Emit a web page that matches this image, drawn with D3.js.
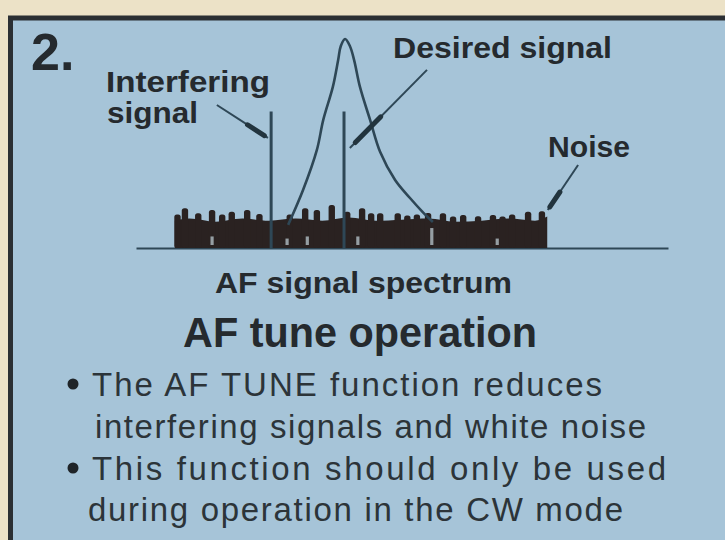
<!DOCTYPE html>
<html>
<head>
<meta charset="utf-8">
<script src="https://cdn.jsdelivr.net/npm/d3@7"></script>
<style>
  body { margin: 0; background: #ece2c7; }
  svg { display: block; }
</style>
</head>
<body>
<div id="chart"></div>
<script>
// spectrum: frequency runs 0-100 along the baseline, amplitude 0-100
const peakFreq = [28.6, 31.4, 34.0, 35.2, 37.0, 38.0, 38.5, 39.3, 40.2, 41.0, 42.1, 44.0, 45.9, 48.7, 51.5, 53.9, 55.8];
const peakAmp  = [11.0, 27.6, 46.7, 61.0, 76.7, 89.5, 96.2, 99.5, 96.2, 89.5, 76.7, 61.0, 45.7, 32.4, 23.8, 17.1, 12.4];

const signalNames = ['Interfering signal', 'Desired signal'];
const signalFreq = [25.4, 39.1];
const signalAmp = [65, 65];

// noise floor
const noiseBodyFreq = [7.3, 10, 15, 20, 25, 30, 35, 40, 45, 50, 55, 60, 65, 70, 75, 77.3];
const noiseBodyAmp  = [13, 14, 12.5, 14, 13, 14, 13, 14.5, 13, 13.5, 14, 12.5, 13, 14, 13, 15];
const spikeFreq = [7.8, 9.2, 11.7, 14.3, 16.2, 18.0, 20.9, 23.2, 28.9, 31.8, 34.0, 36.8, 39.7, 42.5, 44.2, 45.9, 49.2, 51.0, 52.8, 54.9, 57.7, 59.6, 61.5, 64.3, 67.1, 68.9, 70.7, 73.7, 76.3];
const spikeAmp  = [16.0, 18.9, 16.5, 18.1, 16.0, 17.3, 18.1, 16.2, 15.9, 18.9, 18.1, 20.5, 17.3, 18.9, 16.5, 16.5, 16.5, 15.5, 15.9, 16.7, 16.5, 15.0, 15.7, 15.1, 15.7, 15.0, 15.9, 17.3, 17.5];
const speckFreq = [14.3, 28.4, 32.2, 41.7, 55.6, 67.9];
const speckAmp  = [3, 2, 3, 3, 7, 2];

// leader lines [fromFreq, fromAmp, toFreq, toAmp]
const leaders = [
  [15.2, 68.1, 24.8, 52.4],
  [54.7, 84.8, 40.2, 47.6],
  [83.1, 39.5, 77.4, 18.1]
];

const bulletLines = [
  'The AF TUNE function reduces',
  'interfering signals and white noise',
  'This function should only be used',
  'during operation in the CW mode'
];

const width = 725, height = 540;
const ink = '#2e4756';
const textInk = '#252a2e';
const noiseInk = '#2a2221';

const svg = d3.select('#chart')
  .append('svg')
  .attr('width', width)
  .attr('height', height);

// panel with dark frame running off the right and bottom edge
svg.append('rect')
  .attr('x', 10.5).attr('y', 18)
  .attr('width', 730).attr('height', 540)
  .attr('fill', '#a6c4d8')
  .attr('stroke', '#2b2f33')
  .attr('stroke-width', 5);

const x = d3.scaleLinear().domain([0, 100]).range([136, 668]);
const y = d3.scaleLinear().domain([0, 100]).range([248, 38]);

// baseline
svg.append('g')
  .attr('transform', `translate(0, ${y(0)})`)
  .call(d3.axisBottom(x).ticks(0).tickSizeOuter(0))
  .call(g => g.select('.domain').attr('stroke', ink).attr('stroke-width', 2.2));

// noise floor body
const body = noiseBodyFreq.map((f, i) => ({ f, a: noiseBodyAmp[i] }));
svg.append('path')
  .datum(body)
  .attr('fill', noiseInk)
  .attr('d', d3.area().x(d => x(d.f)).y0(y(0)).y1(d => y(d.a)).curve(d3.curveMonotoneX));

// noise spikes
svg.selectAll('.spike')
  .data(spikeFreq.map((f, i) => ({ f, a: spikeAmp[i] })))
  .enter()
  .append('rect')
  .attr('class', 'spike')
  .attr('x', d => x(d.f - 0.6))
  .attr('y', d => y(d.a))
  .attr('width', d => x(d.f + 0.6) - x(d.f - 0.6))
  .attr('height', d => y(0) - y(d.a))
  .attr('rx', 2.5)
  .attr('fill', noiseInk);

// light specks inside the noise
svg.selectAll('.speck')
  .data(speckFreq.map((f, i) => ({ f, a: speckAmp[i] })))
  .enter()
  .append('rect')
  .attr('class', 'speck')
  .attr('x', d => x(d.f - 0.3))
  .attr('y', d => y(d.a + 2.5))
  .attr('width', d => x(d.f + 0.3) - x(d.f - 0.3))
  .attr('height', d => y(0) - y(d.a + 2.5) - 3)
  .attr('fill', '#b9c8cf')
  .attr('opacity', 0.75);

// the two carrier lines
svg.selectAll('.signal')
  .data(signalNames.map((name, i) => ({ name, f: signalFreq[i], a: signalAmp[i] })))
  .enter()
  .append('line')
  .attr('class', 'signal')
  .attr('x1', d => x(d.f)).attr('x2', d => x(d.f))
  .attr('y1', y(0)).attr('y2', d => y(d.a))
  .attr('stroke', ink)
  .attr('stroke-width', 3);

// AF filter response peak
const peak = peakFreq.map((f, i) => ({ f, a: peakAmp[i] }));
svg.append('path')
  .datum(peak)
  .attr('fill', 'none')
  .attr('stroke', ink)
  .attr('stroke-width', 2.6)
  .attr('d', d3.line().x(d => x(d.f)).y(d => y(d.a)).curve(d3.curveCatmullRom));

// leader lines with dart-like heads
leaders.forEach(([f1, a1, f2, a2]) => {
  const x1 = x(f1), y1 = y(a1), x2 = x(f2), y2 = y(a2);
  svg.append('line')
    .attr('x1', x1).attr('y1', y1).attr('x2', x2).attr('y2', y2)
    .attr('stroke', ink).attr('stroke-width', 2);
  const t0 = 0.6, t1 = 0.93;
  svg.append('line')
    .attr('x1', x1 + (x2 - x1) * t0).attr('y1', y1 + (y2 - y1) * t0)
    .attr('x2', x1 + (x2 - x1) * t1).attr('y2', y1 + (y2 - y1) * t1)
    .attr('stroke', '#22343e').attr('stroke-width', 5)
    .attr('stroke-linecap', 'round');
});

// labels
const bold = (txt, px, py, size, len) => {
  const t = svg.append('text')
    .attr('x', px).attr('y', py)
    .attr('font-family', '"Liberation Sans", Arial, sans-serif')
    .attr('font-weight', 'bold')
    .attr('font-size', size)
    .attr('fill', textInk)
    .text(txt);
  if (len) t.attr('textLength', len).attr('lengthAdjust', 'spacingAndGlyphs');
  return t;
};

bold('2.', 31, 70, 52);
bold('Interfering', 106, 92, 30, 164);
bold('signal', 107, 123, 30, 91);
bold('Desired signal', 393, 58, 30, 219);
bold('Noise', 548, 157, 30, 82);
bold('AF signal spectrum', 215, 293, 30, 297);
bold('AF tune operation', 183, 347, 42, 354);

// bullet text
const lineX = [92, 95, 92, 88];
const lineY = [396, 438, 480, 521];
const lineLen = [510, 551, 574, 535];
svg.selectAll('.bullet-line')
  .data(bulletLines)
  .enter()
  .append('text')
  .attr('class', 'bullet-line')
  .attr('x', (d, i) => lineX[i])
  .attr('y', (d, i) => lineY[i])
  .attr('font-family', '"Liberation Sans", Arial, sans-serif')
  .attr('font-size', 33)
  .attr('fill', '#2c3439')
  .attr('textLength', (d, i) => lineLen[i])
  .attr('lengthAdjust', 'spacing')
  .text(d => d);

svg.selectAll('.dot')
  .data([0, 2])
  .enter()
  .append('circle')
  .attr('cx', 73)
  .attr('cy', d => lineY[d] - 12)
  .attr('r', 5.5)
  .attr('fill', '#1f2428');
</script>
</body>
</html>
